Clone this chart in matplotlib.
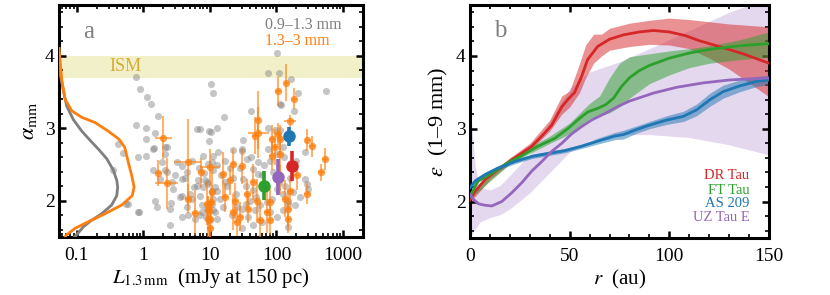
import numpy as np
import matplotlib
matplotlib.use("Agg")
import matplotlib.pyplot as plt
from matplotlib.ticker import MultipleLocator, FixedLocator, LogLocator, NullFormatter

plt.rcParams['font.family'] = 'serif'
plt.rcParams['font.serif'] = ['Liberation Serif', 'DejaVu Serif']
plt.rcParams['mathtext.fontset'] = 'stix'
plt.rcParams['font.size'] = 14

# PANEL A DATA: 0.9-1.3 mm spectral indices (gray)
gray_L = [0.78, 0.89, 1.12, 1.31, 1.65, 0.77, 1.09, 1.5, 1.1, 0.42, 1.46, 2.25, 6.5, 9.8, 10.4, 11.3,
          103, 74, 111, 165, 553, 209, 116, 186, 41, 16.4, 12.7, 7.1, 31.9, 95.5, 114, 30, 0.5, 0.82,
          1.41, 1.93, 2.12, 1.38, 2.73, 0.354, 1.5, 1.59, 0.59, 0.87, 2.52, 2.52, 3.86, 4.65, 6.0, 7.55,
          8.7, 10.4, 9.7, 8.0, 6.7, 5.85, 8.0, 9.3, 10.7, 3.86, 3.0, 2.12, 2.12, 5.0, 4.5, 7.55, 10.7,
          11.3, 10.1, 30, 35.9, 11.3, 10.7, 8.5, 12, 16.9, 14.2, 9.0, 12, 16, 25.4, 21.3, 30, 37.9, 47.9,
          56.9, 71.7, 60.3, 45.1, 30, 101, 127, 151, 191, 148, 227, 270, 286, 302, 270, 135, 160, 180,
          45, 53.6, 31.9, 22.6, 80, 101, 127, 75.8, 53.6, 101, 127, 85, 0.555, 0.84, 7.1, 12.7, 3.18,
          3.77, 4.5, 6.35, 9.0, 9.5, 11.3, 13.4, 7.1, 5.35, 3.77, 2.83, 11.3, 12.7, 1.78, 2.25, 113, 75,
          1.09, 28, 35, 40, 25, 20, 45, 60, 18, 50, 65, 90, 110, 130, 200, 150, 80, 35, 42, 17, 4.2, 3.5,
          2.6, 6.8, 5.3, 8.2, 14.5, 13, 22]
gray_a = [3.71, 3.54, 3.43, 3.34, 3.17, 3.04, 3.0, 2.93, 2.85, 2.78, 2.73, 2.74, 2.99, 2.96, 3.61, 3.48,
          4.04, 3.76, 3.76, 3.68, 3.51, 3.48, 3.32, 3.24, 3.24, 3.15, 3.0, 2.99, 2.84, 2.98, 2.98, 2.71,
          2.66, 2.6, 2.71, 2.54, 2.42, 2.42, 2.26, 2.42, 2.0, 1.91, 1.95, 1.85, 1.89, 1.66, 1.78, 1.81,
          1.75, 1.85, 1.78, 2.95, 2.83, 2.62, 2.28, 2.19, 2.19, 2.23, 2.14, 2.3, 2.35, 2.64, 2.74, 2.1,
          1.91, 1.94, 1.96, 1.87, 1.73, 2.69, 2.58, 2.42, 2.53, 2.28, 2.19, 2.26, 2.03, 1.89, 1.85, 1.91,
          1.91, 1.8, 1.89, 1.78, 1.87, 1.94, 1.98, 1.71, 1.66, 1.62, 1.78, 1.87, 1.96, 1.94, 1.64, 2.05,
          2.3, 2.23, 2.16, 2.67, 2.21, 2.31, 2.12, 2.44, 2.37, 2.3, 2.32, 2.55, 2.64, 2.74, 2.71, 2.53,
          2.16, 2.1, 2.03, 1.95, 1.85, 1.8, 1.75, 2.53, 2.48, 2.39, 2.21, 2.26, 2.51, 2.62, 2.67, 2.07,
          2.03, 2.07, 2.16, 2.03, 2.14, 2.3, 2.39, 3.33, 3.01, 2.62, 2.45, 2.2, 2.0, 2.1, 2.45, 2.15,
          2.35, 2.2, 2.05, 2.5, 2.4, 2.25, 2.6, 2.55, 2.0, 1.85, 1.95, 2.6, 2.55, 2.32, 2.05, 1.97, 2.45,
          2.55, 2.38, 2.35, 2.5, 2.7]

# PANEL A DATA: 1.3-3 mm spectral indices (orange) with errors
orange_L = [141, 105, 184, 160, 53.6, 47.6, 107, 85, 293, 2.0, 4.65, 1.65, 2.25, 7.4, 10.1, 4.65, 6.0,
            9.5, 10.1, 10.7, 10.3, 114, 95.5, 85, 114, 345, 22.6, 30, 16, 20, 45, 114, 203, 540, 465,
            286, 16.9, 24, 35.9, 50.6, 80, 135, 160, 9.0, 22.6, 37.9, 71.7, 151, 28.5, 9.5, 57, 80, 25.4,
            151, 10.1, 52]
orange_a = [3.63, 3.51, 3.41, 3.1, 2.94, 2.9, 2.92, 2.85, 2.84, 2.87, 2.53, 2.38, 2.24, 2.39, 2.46, 2.03,
            1.83, 1.87, 1.75, 2.12, 1.98, 2.85, 2.74, 2.62, 2.64, 2.75, 2.51, 2.48, 2.37, 2.28, 2.26, 2.3,
            2.35, 2.58, 2.39, 2.1, 2.05, 2.0, 2.1, 2.0, 1.98, 2.03, 2.14, 1.96, 1.85, 1.89, 1.85, 1.89,
            1.78, 1.75, 1.73, 1.73, 1.71, 1.75, 1.62, 3.12]
orange_aerr = [0.25, 0.2, 0.15, 0.08, 0.35, 0.25, 0.15, 0.2, 0.15, 0.3, 0.6, 0.18, 0.35, 0.2, 0.25, 0.2,
               0.3, 0.2, 0.25, 0.3, 0.2, 0.2, 0.25, 0.2, 0.3, 0.15, 0.2, 0.25, 0.3, 0.2, 0.25, 0.2,
               0.2, 0.15, 0.12, 0.15, 0.2, 0.25, 0.2, 0.3, 0.2, 0.25, 0.2, 0.3, 0.25, 0.2, 0.3, 0.25,
               0.2, 0.3, 0.25, 0.2, 0.2, 0.2, 0.3, 0.4]
orange_Lfrac = [0.1, 0.1, 0.1, 0.25, 0.45, 0.1, 0.1, 0.1, 0.1, 0.35, 0.6, 0.1, 0.5, 0.1, 0.4, 0.1,
                0.1, 0.1, 0.1, 0.1, 0.1, 0.1, 0.1, 0.1, 0.1, 0.1, 0.1, 0.1, 0.1, 0.1, 0.1, 0.1,
                0.1, 0.1, 0.1, 0.1, 0.1, 0.1, 0.1, 0.1, 0.1, 0.1, 0.1, 0.1, 0.1, 0.1, 0.1, 0.1,
                0.1, 0.1, 0.1, 0.1, 0.1, 0.1, 0.1, 0.1]

# HIGHLIGHTED DISCS (DR Tau, FT Tau, AS 209, UZ Tau E)
disc_names = ['DR Tau', 'FT Tau', 'AS 209', 'UZ Tau E']
disc_colors = ['#d62728', '#2ca02c', '#1f77b4', '#9467bd']
disc_L = [170, 64, 157, 104]
disc_a = [2.48, 2.21, 2.89, 2.33]
disc_aerr = [0.21, 0.2, 0.13, 0.25]

# DISTRIBUTIONS ON THE LEFT EDGE (fraction of panel width vs alpha)
kde_gray_a = [4.1, 3.76, 3.53, 3.31, 3.12, 2.96, 2.83, 2.71, 2.58, 2.42, 2.28, 2.19, 2.07, 1.94, 1.82,
              1.73, 1.64, 1.53, 1.45]
kde_gray_w = [0.0, 0.003, 0.014, 0.025, 0.047, 0.075, 0.103, 0.13, 0.157, 0.179, 0.19, 0.193, 0.19,
              0.173, 0.14, 0.107, 0.08, 0.058, 0.04]
kde_orange_a = [4.1, 3.95, 3.67, 3.4, 3.24, 3.15, 3.08, 2.96, 2.85, 2.74, 2.53, 2.35, 2.19, 2.07, 1.94,
                1.82, 1.71, 1.62, 1.53, 1.45]
kde_orange_w = [0.0, 0.003, 0.009, 0.02, 0.042, 0.075, 0.118, 0.162, 0.197, 0.216, 0.228, 0.239,
                0.247, 0.241, 0.206, 0.151, 0.096, 0.053, 0.025, 0.01]

ism_range = [3.7, 4.0]

# PANEL B DATA: epsilon(r) profiles
dr_r = [0, 2.5, 7.5, 14, 22.5, 31, 36, 41, 46, 49, 52.5, 56, 59, 64, 70, 77, 85, 92, 100, 108, 115,
        125, 137, 144, 150]
dr_e = [2.02, 2.14, 2.3, 2.44, 2.6, 2.76, 2.9, 3.05, 3.3, 3.4, 3.5, 3.72, 3.95, 4.13, 4.23, 4.29,
        4.33, 4.35, 4.33, 4.28, 4.21, 4.13, 4.03, 3.96, 3.9]
dr_band_r = [0, 10, 20, 30, 40, 46, 50, 55, 58, 62, 66, 70, 80, 90, 100, 110, 120, 130, 140, 150]
dr_lo = [1.99, 2.3, 2.52, 2.7, 2.97, 3.2, 3.3, 3.5, 3.7, 3.9, 4.0, 4.08, 4.13, 4.16, 4.15, 4.1, 3.97,
         3.82, 3.63, 3.44]
dr_hi = [2.06, 2.38, 2.6, 2.8, 3.12, 3.45, 3.52, 3.9, 4.15, 4.3, 4.3, 4.38, 4.45, 4.49, 4.52, 4.5,
         4.47, 4.44, 4.42, 4.4]

ft_r = [0, 4, 11, 17.6, 26, 34, 42.6, 49, 54, 59, 64, 68, 72, 76, 80, 85, 90, 100, 110, 120, 135, 150]
ft_e = [2.07, 2.28, 2.39, 2.51, 2.63, 2.76, 2.87, 3.0, 3.12, 3.23, 3.28, 3.33, 3.42, 3.58, 3.7, 3.8,
        3.87, 3.97, 4.04, 4.09, 4.14, 4.17]
ft_band_r = [0, 20, 40, 50, 60, 65, 70, 75, 80, 90, 100, 110, 120, 135, 150]
ft_lo = [2.04, 2.52, 2.8, 2.93, 3.14, 3.18, 3.22, 3.3, 3.42, 3.62, 3.74, 3.84, 3.9, 3.95, 3.98]
ft_hi = [2.1, 2.6, 2.9, 3.08, 3.35, 3.45, 3.7, 3.9, 3.99, 4.03, 4.07, 4.1, 4.14, 4.22, 4.33]

as_r = [0, 2.5, 7.5, 14, 22.5, 31, 39, 47.6, 56, 64, 72.7, 77, 83.6, 90, 98.7, 107, 113.7, 120.4, 127,
        135.4, 143.8, 150]
as_e = [2.19, 2.28, 2.37, 2.46, 2.55, 2.62, 2.66, 2.7, 2.76, 2.83, 2.9, 2.92, 2.99, 3.05, 3.12, 3.17,
        3.26, 3.4, 3.51, 3.59, 3.65, 3.67]
as_err = [0.05, 0.04, 0.03, 0.03, 0.03, 0.03, 0.03, 0.03, 0.03, 0.04, 0.05, 0.06, 0.05, 0.05, 0.06,
          0.07, 0.08, 0.09, 0.09, 0.08, 0.07, 0.06]

uz_r = [0, 1.7, 4.2, 7.5, 10.9, 15.9, 20.9, 26, 31, 36, 41, 46, 51, 56, 61, 67.7, 74.4, 80, 92, 103.7,
        117, 130, 150]
uz_e = [2.1, 2.03, 1.97, 1.95, 1.94, 2.0, 2.12, 2.26, 2.42, 2.55, 2.69, 2.8, 2.93, 3.03, 3.12, 3.21,
        3.31, 3.38, 3.49, 3.57, 3.63, 3.67, 3.7]
uz_band_r = [0, 1, 2.5, 5, 10, 15, 20, 30, 40, 50, 60, 75, 90, 110, 130, 150]
uz_lo = [1.45, 1.55, 1.62, 1.72, 1.78, 1.82, 1.9, 2.12, 2.4, 2.68, 2.84, 2.92, 2.92, 2.88, 2.78, 2.64]
uz_hi = [3.3, 3.0, 2.5, 2.2, 2.16, 2.22, 2.36, 2.65, 3.1, 3.55, 3.78, 3.92, 4.1, 4.35, 4.6, 4.8]

GRAY = '#7f7f7f'
ORANGE = '#ff7f0e'


def style_axes(ax):
    for s in ax.spines.values():
        s.set_linewidth(2.2)
    ax.tick_params(which='both', direction='in', top=True, right=True)
    ax.tick_params(which='major', length=5, width=1.8)
    ax.tick_params(which='minor', length=3, width=1.2)
    ax.tick_params(axis='x', which='major', pad=7)
    ax.tick_params(axis='y', which='major', pad=3)


fig = plt.figure(figsize=(8.3, 2.95), dpi=100)

# ---------------- PANEL A ----------------
ax = fig.add_axes([59 / 830, 58 / 295, 304 / 830, 232 / 295])
ax.set_xscale('log')
ax.set_xlim(0.054, 2000)
ax.set_ylim(1.5, 4.7)

ax.axhspan(ism_range[0], ism_range[1], color='#f1f0c8', zorder=0, lw=0)
ax.text(0.54, 3.85, 'ISM', color='#d9ad35', fontsize=13, ha='center', va='center', zorder=1)

ax.scatter(gray_L, gray_a, s=26, color=GRAY, alpha=0.45, lw=0, zorder=2)

oL = np.array(orange_L)
oxerr = [oL * np.array(orange_Lfrac) / (1 + np.array(orange_Lfrac)), oL * np.array(orange_Lfrac)]
ax.errorbar(orange_L, orange_a, yerr=orange_aerr, xerr=oxerr, fmt='none', ecolor=ORANGE,
            elinewidth=1.5, alpha=0.6, zorder=3)
ax.scatter(orange_L, orange_a, s=28, color=ORANGE, alpha=0.75, lw=0, zorder=3)

for i in range(len(disc_names)):
    ax.errorbar(disc_L[i], disc_a[i], yerr=disc_aerr[i], fmt='o', color=disc_colors[i],
                ms=8, elinewidth=2.6, capsize=0, zorder=5)

# DISTRIBUTION CURVES DRAWN ON A TWIN AXIS WITH LINEAR WIDTH SCALE
axk = ax.twiny()
axk.set_xlim(0, 1)
axk.plot(kde_gray_w, kde_gray_a, color=GRAY, lw=2, zorder=4)
axk.plot(kde_orange_w, kde_orange_a, color=ORANGE, lw=2, zorder=4)
axk.set_ylim(1.5, 4.7)
axk.axis('off')

ax.xaxis.set_major_locator(FixedLocator([0.1, 1, 10, 100, 1000]))
ax.set_xticklabels(['0.1', '1', '10', '100', '1000'])
ax.xaxis.set_minor_locator(LogLocator(base=10, subs=np.arange(2, 10), numticks=20))
ax.xaxis.set_minor_formatter(NullFormatter())
ax.yaxis.set_major_locator(MultipleLocator(1))
ax.yaxis.set_minor_locator(MultipleLocator(0.2))
style_axes(ax)

ax.set_xlabel(r'$L_{1.3\,\mathrm{mm}}$  (mJy at 150 pc)', fontsize=15, labelpad=2)
ax.set_ylabel(r'$\alpha_\mathrm{mm}$', fontsize=16, labelpad=4)

ax.text(0.099, 0.884, 'a', transform=ax.transAxes, color='gray', fontsize=18, ha='center', va='center')
ax.text(0.678, 0.914, '0.9–1.3 mm', transform=ax.transAxes, color=GRAY, fontsize=11.5, ha='left', va='center')
ax.text(0.678, 0.845, '1.3–3 mm', transform=ax.transAxes, color=ORANGE, fontsize=11.5, ha='left', va='center')

# ---------------- PANEL B ----------------
bx = fig.add_axes([470 / 830, 57 / 295, 299 / 830, 233 / 295])
bx.set_xlim(0, 150)
bx.set_ylim(1.5, 4.7)

bx.fill_between(uz_band_r, uz_lo, uz_hi, color=disc_colors[3], alpha=0.25, lw=0, zorder=1)
bx.fill_between(dr_band_r, dr_lo, dr_hi, color=disc_colors[0], alpha=0.5, lw=0, zorder=2)
bx.fill_between(ft_band_r, ft_lo, ft_hi, color=disc_colors[1], alpha=0.5, lw=0, zorder=2)
as_lo = np.array(as_e) - np.array(as_err)
as_hi = np.array(as_e) + np.array(as_err)
bx.fill_between(as_r, as_lo, as_hi, color=disc_colors[2], alpha=0.5, lw=0, zorder=2)

bx.plot(dr_r, dr_e, color=disc_colors[0], lw=2, zorder=3)
bx.plot(ft_r, ft_e, color=disc_colors[1], lw=2, zorder=3)
bx.plot(as_r, as_e, color=disc_colors[2], lw=2, zorder=3)
bx.plot(uz_r, uz_e, color=disc_colors[3], lw=2, zorder=3)

bx.xaxis.set_major_locator(MultipleLocator(50))
bx.xaxis.set_minor_locator(MultipleLocator(10))
bx.yaxis.set_major_locator(MultipleLocator(1))
bx.yaxis.set_minor_locator(MultipleLocator(0.2))
style_axes(bx)

bx.set_xlabel(r'$r$  (au)', fontsize=15, labelpad=2)
bx.set_ylabel(r'$\varepsilon$  (1–9 mm)', fontsize=16, labelpad=4)
bx.text(0.1, 0.888, 'b', transform=bx.transAxes, color='gray', fontsize=18, ha='center', va='center')

legend_y = [0.27, 0.206, 0.146, 0.086]
for name, c, yy in zip(disc_names, disc_colors, legend_y):
    bx.text(0.934, yy, name, transform=bx.transAxes, color=c, fontsize=10.5, ha='right', va='center')

fig.savefig('out.png', dpi=100)
